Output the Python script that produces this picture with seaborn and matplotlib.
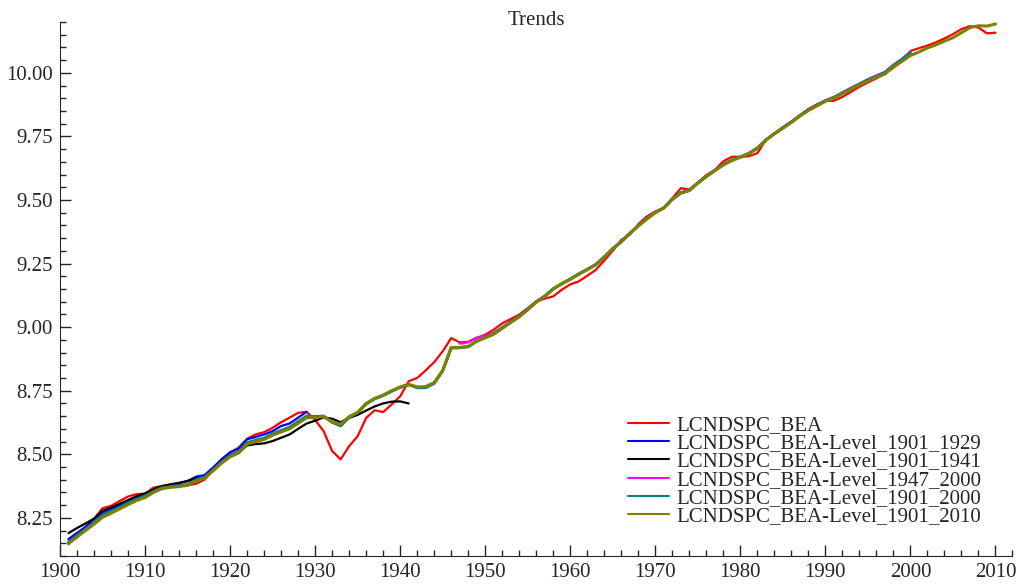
import numpy as np
import pandas as pd
import matplotlib
matplotlib.use("Agg")
import matplotlib.pyplot as plt
import seaborn as sns
from matplotlib.ticker import MultipleLocator

# annual values
years_all = list(range(1901, 2011))

bea = [8.166, 8.19, 8.212, 8.245, 8.288, 8.297, 8.316, 8.334, 8.343, 8.345,
       8.369, 8.375, 8.378, 8.378, 8.378, 8.384, 8.40, 8.44, 8.48, 8.506,
       8.526, 8.561, 8.578, 8.587, 8.604, 8.626, 8.644, 8.663, 8.667, 8.635,
       8.591, 8.513, 8.48, 8.532, 8.571, 8.643, 8.673, 8.666, 8.696, 8.728,
       8.787, 8.80, 8.83, 8.862, 8.905, 8.957, 8.94, 8.942, 8.958, 8.97,
       8.99, 9.015, 9.032, 9.049, 9.075, 9.101, 9.112, 9.121, 9.147, 9.168,
       9.18, 9.202, 9.225, 9.262, 9.30, 9.343, 9.363, 9.405, 9.435, 9.455,
       9.468, 9.507, 9.546, 9.542, 9.568, 9.598, 9.618, 9.652, 9.67, 9.67,
       9.672, 9.684, 9.736, 9.76, 9.786, 9.808, 9.832, 9.858, 9.876, 9.89,
       9.89, 9.905, 9.925, 9.945, 9.962, 9.978, 9.997, 10.02, 10.045, 10.086,
       10.097, 10.107, 10.12, 10.135, 10.152, 10.172, 10.184, 10.178, 10.155, 10.158]

lvl_1901_2010 = [8.148, 8.175, 8.20, 8.225, 8.252, 8.268, 8.285, 8.302, 8.318, 8.330,
                 8.350, 8.365, 8.370, 8.373, 8.378, 8.395, 8.405, 8.435, 8.465, 8.490,
                 8.505, 8.540, 8.550, 8.558, 8.575, 8.588, 8.600, 8.622, 8.644, 8.645,
                 8.648, 8.628, 8.618, 8.648, 8.665, 8.700, 8.720, 8.733, 8.750, 8.765,
                 8.775, 8.765, 8.766, 8.782, 8.830, 8.920, 8.920, 8.924, 8.945, 8.958,
                 8.972, 8.995, 9.018, 9.040, 9.068, 9.098, 9.120, 9.150, 9.170, 9.188,
                 9.208, 9.226, 9.245, 9.275, 9.308, 9.335, 9.368, 9.398, 9.425, 9.450,
                 9.468, 9.502, 9.527, 9.537, 9.566, 9.592, 9.615, 9.638, 9.655, 9.668,
                 9.682, 9.703, 9.735, 9.760, 9.782, 9.805, 9.830, 9.852, 9.870, 9.888,
                 9.900, 9.918, 9.935, 9.952, 9.968, 9.982, 9.995, 10.024, 10.045, 10.068,
                 10.082, 10.098, 10.110, 10.125, 10.138, 10.158, 10.178, 10.185, 10.184, 10.192]

years_1901_2000 = list(range(1901, 2001))
lvl_1901_2000 = [8.154, 8.180, 8.205, 8.231, 8.260, 8.274, 8.291, 8.308, 8.323, 8.336,
                 8.354, 8.368, 8.373, 8.376, 8.381, 8.399, 8.410, 8.438, 8.469, 8.495,
                 8.510, 8.545, 8.555, 8.563, 8.580, 8.593, 8.606, 8.628, 8.650, 8.648,
                 8.650, 8.626, 8.612, 8.645, 8.664, 8.698, 8.718, 8.731, 8.748, 8.763,
                 8.774, 8.762, 8.762, 8.779, 8.828, 8.918, 8.919, 8.923, 8.945, 8.959,
                 8.974, 8.997, 9.020, 9.042, 9.070, 9.100, 9.122, 9.151, 9.171, 9.189,
                 9.209, 9.227, 9.246, 9.276, 9.309, 9.336, 9.369, 9.399, 9.426, 9.451,
                 9.469, 9.503, 9.528, 9.538, 9.567, 9.593, 9.616, 9.639, 9.657, 9.669,
                 9.683, 9.704, 9.736, 9.761, 9.784, 9.807, 9.832, 9.854, 9.872, 9.890,
                 9.903, 9.921, 9.938, 9.955, 9.972, 9.986, 10.000, 10.029, 10.052, 10.078]

years_1901_1929 = list(range(1901, 1930))
lvl_1901_1929 = [8.166, 8.190, 8.215, 8.245, 8.270, 8.285, 8.300, 8.318, 8.332, 8.343,
                 8.358, 8.370, 8.380, 8.385, 8.395, 8.412, 8.418, 8.448, 8.480, 8.508,
                 8.522, 8.559, 8.568, 8.578, 8.591, 8.611, 8.621, 8.644, 8.667]

years_1901_1941 = list(range(1901, 1942))
lvl_1901_1941 = [8.190, 8.210, 8.228, 8.247, 8.278, 8.290, 8.305, 8.320, 8.335, 8.346,
                 8.362, 8.375, 8.382, 8.388, 8.395, 8.405, 8.408, 8.440, 8.470, 8.495,
                 8.505, 8.535, 8.540, 8.543, 8.552, 8.565, 8.578, 8.600, 8.621, 8.632,
                 8.645, 8.640, 8.626, 8.643, 8.655, 8.672, 8.688, 8.700, 8.707, 8.708,
                 8.700]

years_1947_2000 = list(range(1947, 2001))
lvl_1947_2000 = [8.935, 8.940, 8.958, 8.965, 8.978, 9.000, 9.022, 9.043, 9.070, 9.100,
                 9.122, 9.150, 9.170, 9.190, 9.210, 9.228, 9.248, 9.278, 9.310, 9.338,
                 9.370, 9.400, 9.428, 9.453, 9.470, 9.505, 9.530, 9.540, 9.568, 9.594,
                 9.618, 9.640, 9.658, 9.670, 9.684, 9.705, 9.737, 9.762, 9.785, 9.808,
                 9.833, 9.856, 9.874, 9.892, 9.905, 9.923, 9.941, 9.958, 9.975, 9.990,
                 10.004, 10.032, 10.055, 10.084]

series = [
    ("LCNDSPC_BEA", years_all, bea, "#ff0000", 1.6),
    ("LCNDSPC_BEA-Level_1901_1929", years_1901_1929, lvl_1901_1929, "#0000ff", 1.6),
    ("LCNDSPC_BEA-Level_1901_1941", years_1901_1941, lvl_1901_1941, "#000000", 1.6),
    ("LCNDSPC_BEA-Level_1947_2000", years_1947_2000, lvl_1947_2000, "#ff00ff", 1.6),
    ("LCNDSPC_BEA-Level_1901_2000", years_1901_2000, lvl_1901_2000, "#008080", 2.2),
    ("LCNDSPC_BEA-Level_1901_2010", years_all, lvl_1901_2010, "#808000", 2.2),
]

sns.set_style("ticks")
plt.rcParams["font.family"] = ["Liberation Serif", "DejaVu Serif"]

fig = plt.figure(figsize=(10.22, 5.86), dpi=100)
ax = fig.add_axes([0.0587, 0.0512, 0.932, 0.9113])

for name, yrs, vals, col, lw in series:
    sns.lineplot(x=yrs, y=vals, color=col, linewidth=lw, label=name, ax=ax)

ax.set_xlim(1900, 2012)
ax.set_ylim(8.10, 10.20)
ax.xaxis.set_major_locator(MultipleLocator(10))
ax.xaxis.set_minor_locator(MultipleLocator(2))
ax.yaxis.set_major_locator(MultipleLocator(0.25))
ax.yaxis.set_minor_locator(MultipleLocator(0.05))
ax.yaxis.set_major_formatter(matplotlib.ticker.FormatStrFormatter("%.2f"))
ax.tick_params(which="major", direction="in", length=8, width=1, labelsize=15, pad=5)
ax.tick_params(which="minor", direction="in", length=4, width=1)
sns.despine(ax=ax)
ax.set_xlabel("")
ax.set_ylabel("")
ax.set_title("Trends", fontsize=15, y=0.994, pad=0)

leg = ax.legend(loc="lower right", bbox_to_anchor=(0.983, 0.028), frameon=False,
                fontsize=15, handlelength=2.0, handletextpad=0.35, labelspacing=-0.06,
                borderpad=0.2)
for line in leg.get_lines():
    line.set_linewidth(1.5)

fig.savefig("out.png", dpi=100)
